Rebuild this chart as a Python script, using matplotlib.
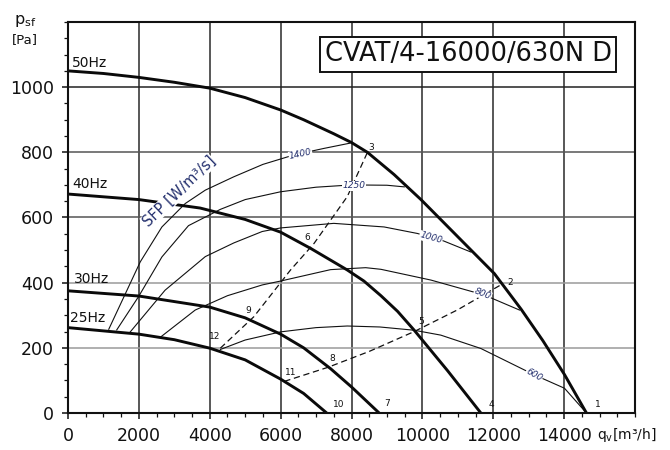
import matplotlib
matplotlib.use("Agg")
import matplotlib.pyplot as plt
from matplotlib.ticker import MultipleLocator, FixedLocator

plt.rcParams['font.family'] = ['DejaVu Sans']
plt.rcParams['mathtext.fontset'] = 'dejavusans'

# ---------------- data ----------------
# fan curves, q [m3/h] -> p_sf [Pa]
q50 = [0, 1000, 2000, 3000, 4000, 5000, 6000, 6650, 7500, 8000, 8450, 9200, 9960, 11090, 12030, 12790, 13400, 14010, 14630]
p50 = [1050, 1042, 1030, 1015, 997, 968, 930, 900, 857, 830, 800, 732, 655, 531, 428, 318, 222, 118, 0]

q40 = [0, 2000, 3730, 5000, 6000, 6850, 7880, 8350, 8830, 9300, 9770, 10710, 11650]
p40 = [672, 655, 629, 594, 555, 505, 439, 405, 360, 312, 254, 130, 0]

q30 = [0, 2000, 4000, 5000, 6000, 6650, 7410, 8000, 8780]
p30 = [375, 359, 325, 292, 242, 200, 136, 80, 0]

q25 = [0, 2000, 3000, 4000, 5000, 6000, 6650, 7300]
p25 = [262, 242, 225, 199, 163, 104, 60, 0]

fan_labels = ["50Hz", "40Hz", "30Hz", "25Hz"]

# SFP contour lines [W/m3/s]
q1400 = [1150, 1700, 2040, 2650, 3310, 3875, 4680, 5500, 6375, 7220, 7950]
p1400 = [257, 385, 464, 571, 643, 684, 725, 763, 792, 812, 828]

q1250 = [1375, 1990, 2650, 3400, 4300, 5000, 6000, 7000, 8000, 9000, 9490]
p1250 = [255, 357, 479, 575, 625, 655, 679, 693, 700, 699, 694]

q1000 = [1750, 2740, 3875, 4680, 5480, 6000, 7500, 8920, 9860, 10600, 11370]
p1000 = [248, 377, 480, 522, 557, 568, 582, 571, 551, 528, 494]

q800 = [2600, 3590, 4500, 5480, 6000, 7410, 8400, 8830, 10240, 11750, 12740]
p800 = [232, 316, 360, 393, 405, 440, 446, 441, 408, 362, 316]

q600 = [4300, 5000, 6000, 7000, 7880, 8800, 9770, 10520, 11650, 13160, 14010, 14630]
p600 = [195, 224, 249, 262, 267, 264, 254, 239, 198, 117, 76, 0]

sfp_labels = ["1400", "1250", "1000", "800", "600"]

# system (operating-point) curves
qA = [4300, 5240, 6280, 6940, 7880, 8450]
pA = [199, 295, 439, 520, 664, 800]
qB = [6105, 7330, 8500, 9770, 11000, 12210]
pB = [97, 140, 189, 250, 317, 393]
qC = [7300, 8780, 11650, 14630]
pC = [0, 0, 0, 0]

point_labels = ["1", "2", "3", "4", "5", "6", "7", "8", "9", "10", "11", "12"]

x_ticks = [0, 2000, 4000, 6000, 8000, 10000, 12000, 14000]
y_ticks = [0, 200, 400, 600, 800, 1000]

# ---------------- figure ----------------
fig = plt.figure(figsize=(6.7, 4.5), dpi=100)
ax = fig.add_axes([68/670, 37/450, 567/670, 391/450])
ax.set_xlim(0, 16000)
ax.set_ylim(0, 1200)

# grid
for xv in x_ticks[1:]:
    ax.axvline(xv, color='#2a2a2a', lw=1.1, zorder=1)
hcol = {200: '#9a9a9a', 400: '#9a9a9a', 600: '#555555', 800: '#555555', 1000: '#222222'}
for yv in y_ticks[1:]:
    ax.axhline(yv, color=hcol[yv], lw=1.1, zorder=1)

navy = '#24306e'
thin = dict(color='#111111', lw=0.8, zorder=3)
for qs, ps in [(q1400, p1400), (q1250, p1250), (q1000, p1000), (q800, p800), (q600, p600)]:
    ax.plot(qs, ps, **thin)

dash = dict(color='#111111', lw=0.9, dashes=(5, 3), zorder=3)
ax.plot(qA, pA, **dash)
ax.plot(qB, pB, **dash)
ax.plot(qC, pC, **dash)

thick = dict(color='#0a0a0a', lw=2.1, zorder=4, solid_capstyle='butt', solid_joinstyle='round')
for qs, ps in [(q50, p50), (q40, p40), (q30, p30), (q25, p25)]:
    ax.plot(qs, ps, **thick)

# fan labels
hz_pos = [(110, 1061), (110, 690), (170, 399), (60, 280)]
for lab, (xx, yy) in zip(fan_labels, hz_pos):
    ax.text(xx, yy, lab, fontsize=10, ha='left', va='baseline', color='#111111', zorder=6)

# SFP value labels
sfp_pos = [(6560, 794, 12), (8060, 698, 0), (10240, 537, -16), (11700, 365, -22), (13160, 118, -29)]
wb = dict(facecolor='white', edgecolor='none', pad=0.3)
for lab, (xx, yy, rot) in zip(sfp_labels, sfp_pos):
    ax.text(xx, yy, lab, fontsize=6.5, color=navy, ha='center', va='center',
            rotation=rot, rotation_mode='anchor', bbox=wb, zorder=5, style='italic')

ax.text(3130, 680, "SFP [W/m³/s]", fontsize=10.5, color=navy, ha='center', va='center',
        rotation=44, rotation_mode='anchor', zorder=5,
        bbox=dict(facecolor='white', edgecolor='none', pad=0.2))

# operating point labels
pt_pos = [(14950, 25), (12480, 400), (8560, 815), (11950, 25), (9960, 280), (6750, 540),
          (9000, 28), (7460, 168), (5100, 314), (7650, 25), (6280, 124), (4150, 234)]
for lab, (xx, yy) in zip(point_labels, pt_pos):
    ax.text(xx, yy, lab, fontsize=6.5, color='#111111', ha='center', va='center', zorder=6)

# title box
ax.text(11290, 1101, "CVAT/4-16000/630N D", fontsize=18.5, ha='center', va='center',
        color='#111111', zorder=7,
        bbox=dict(facecolor='white', edgecolor='#111111', lw=1.4, boxstyle='square,pad=0.18'))

# axes styling
for s in ax.spines.values():
    s.set_linewidth(1.5)
    s.set_color('#111111')
    s.set_zorder(8)
ax.xaxis.set_major_locator(FixedLocator(x_ticks))
ax.yaxis.set_major_locator(FixedLocator(y_ticks))
ax.xaxis.set_minor_locator(MultipleLocator(500))
ax.yaxis.set_minor_locator(MultipleLocator(50))
ax.tick_params(which='major', direction='out', length=4, width=1.1, labelsize=12.5,
               colors='#111111', pad=6)
ax.tick_params(which='minor', direction='out', length=3, width=0.9, colors='#111111')
ax.set_xticklabels([str(v) for v in x_ticks])
ax.set_yticklabels([str(v) for v in y_ticks])

# axis titles
fig.text(14/670, 1 - 24/450, r"p$_\mathrm{sf}$", fontsize=11.5, ha='left', va='baseline', color='#111111')
fig.text(12/670, 1 - 43/450, "[Pa]", fontsize=9.5, ha='left', va='baseline', color='#111111')
fig.text(597/670, 1 - 439/450, r"q$_\mathrm{v}$[m³/h]", fontsize=10, ha='left', va='baseline', color='#111111')

fig.savefig("out.png", dpi=100, facecolor='white')
